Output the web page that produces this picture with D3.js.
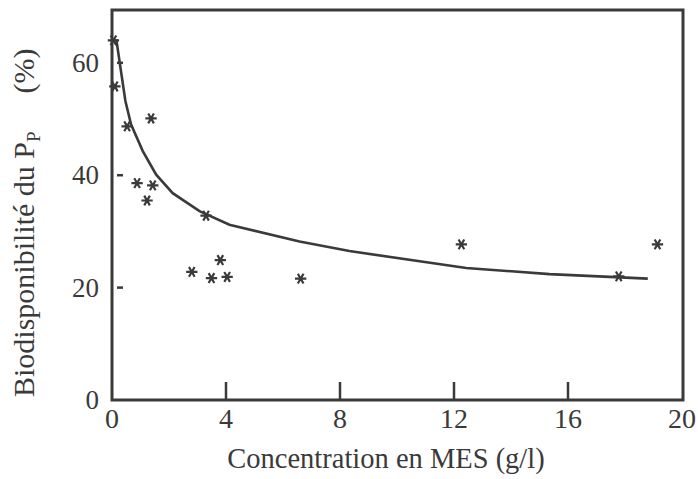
<!DOCTYPE html>
<html lang="fr">
<head>
<meta charset="UTF-8">
<script src="https://cdn.jsdelivr.net/npm/d3@7"></script>
<style>
  body { margin: 0; background: #fff; }
  svg text { font-family: "Liberation Serif", "DejaVu Serif", serif; }
</style>
</head>
<body>
<svg width="698" height="479"></svg>
<script>
// points mesurés (concentration MES g/l, biodisponibilité %)
const mesX = [0.05, 0.1, 0.53, 1.37, 0.88, 1.43, 1.23, 3.3, 2.8, 3.8, 3.49, 4.04, 6.62, 12.26, 17.78, 19.14];
const bioY = [64.0, 55.8, 48.7, 50.1, 38.6, 38.2, 35.5, 32.8, 22.8, 24.9, 21.7, 21.9, 21.6, 27.7, 22.0, 27.7];

// courbe ajustée
const curveX = [0.15, 0.47, 0.67, 1.08, 1.55, 2.13, 3.07, 4.12, 6.58, 8.33, 12.43, 15.35, 18.8];
const curveY = [64.2, 53.2, 49.0, 44.3, 40.1, 36.8, 33.6, 31.2, 28.2, 26.5, 23.5, 22.4, 21.6];

const xTicks = [0, 4, 8, 12, 16, 20];
const yTicks = [0, 20, 40, 60];

const ink = '#3a3a3a';
const svg = d3.select('svg');
const m = { left: 112, right: 683, top: 10, bottom: 400 };

const x = d3.scaleLinear().domain([0, 20]).range([m.left, m.right - 1]);
const y = d3.scaleLinear().domain([0, 69.4]).range([m.bottom, m.top]);

// cadre
svg.append('rect')
    .attr('x', m.left).attr('y', m.top)
    .attr('width', m.right - m.left).attr('height', m.bottom - m.top)
    .attr('fill', 'none').attr('stroke', ink).attr('stroke-width', 3);

// graduations x (vers l'intérieur)
svg.append('g').selectAll('line')
    .data(xTicks.slice(1, -1))
    .join('line')
    .attr('x1', d => x(d)).attr('x2', d => x(d))
    .attr('y1', m.bottom).attr('y2', m.bottom - 18)
    .attr('stroke', ink).attr('stroke-width', 2.5);

svg.append('g').selectAll('text')
    .data(xTicks)
    .join('text')
    .attr('x', d => x(d)).attr('y', 428)
    .attr('text-anchor', 'middle')
    .attr('font-size', 28)
    .attr('fill', ink)
    .text(d => d);

// graduations y
svg.append('g').selectAll('line')
    .data(yTicks.slice(1))
    .join('line')
    .attr('x1', m.left + 5).attr('x2', m.left + 11)
    .attr('y1', d => y(d)).attr('y2', d => y(d))
    .attr('stroke', ink).attr('stroke-width', 2.5);

svg.append('g').selectAll('text')
    .data(yTicks)
    .join('text')
    .attr('x', 99).attr('y', d => y(d) + 9)
    .attr('text-anchor', 'end')
    .attr('font-size', 27)
    .attr('fill', ink)
    .text(d => d);

// titres
svg.append('text')
    .attr('x', 386).attr('y', 468)
    .attr('text-anchor', 'middle')
    .attr('font-size', 28.5)
    .attr('fill', ink)
    .text('Concentration en MES (g/l)');

const yl = svg.append('text')
    .attr('transform', 'translate(34, 397) rotate(-90)')
    .attr('font-size', 30)
    .attr('fill', ink);
yl.append('tspan').text('Biodisponibilité du P');
yl.append('tspan').attr('font-size', 19).attr('dy', 6).text('P');
yl.append('tspan').attr('dy', -6).attr('dx', 38).text('(%)');

// courbe
const line = d3.line()
    .x((d, i) => x(curveX[i]))
    .y(d => y(d));

svg.append('path')
    .attr('d', line(curveY))
    .attr('fill', 'none')
    .attr('stroke', ink)
    .attr('stroke-width', 2.6);

// points
const star = d3.symbol().type(d3.symbolAsterisk).size(90);
svg.append('g').selectAll('path')
    .data(bioY)
    .join('path')
    .attr('transform', (d, i) => `translate(${x(mesX[i])},${y(d)}) rotate(90)`)
    .attr('d', star)
    .attr('fill', 'none')
    .attr('stroke', ink)
    .attr('stroke-width', 2.2);
</script>
</body>
</html>
